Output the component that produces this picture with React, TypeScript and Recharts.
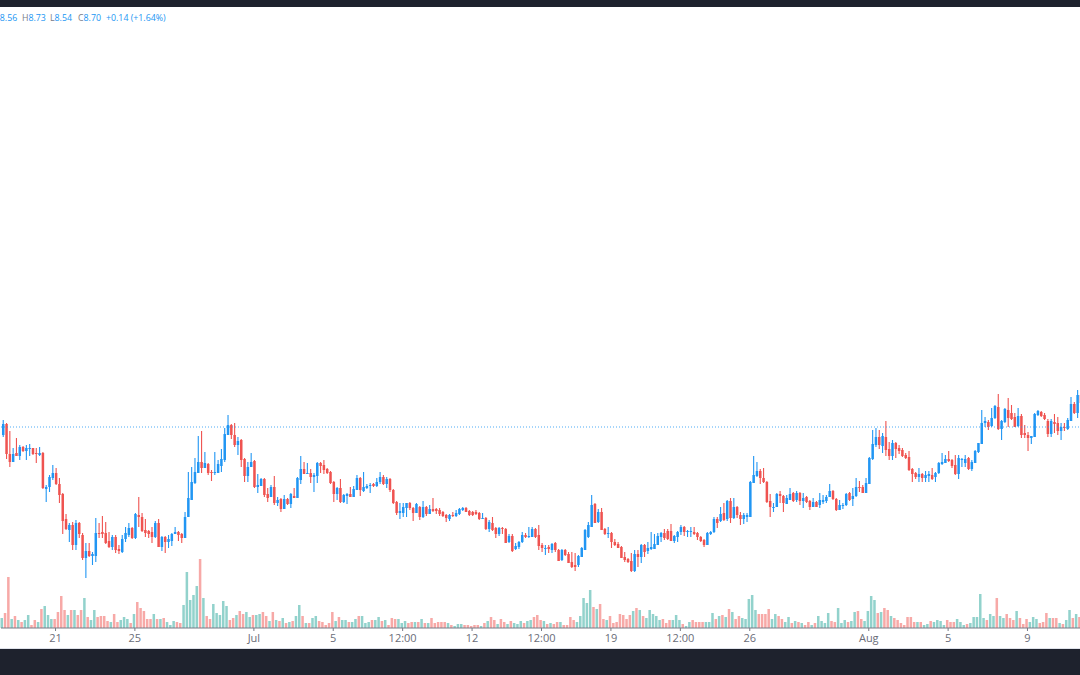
import { ComposedChart, Bar, XAxis, YAxis, ReferenceLine } from 'recharts';

// 4h candles (10 per line)
const opens = [
  8.30,8.41,8.11,8.03,8.12,8.09,8.18,8.14,8.16,8.17,
  8.12,8.10,8.12,7.76,7.78,7.87,7.92,7.81,7.71,7.46,
  7.35,7.40,7.20,7.42,7.30,7.07,7.14,7.09,7.09,7.32,
  7.33,7.32,7.24,7.18,7.28,7.16,7.13,7.26,7.30,7.37,
  7.27,7.50,7.48,7.35,7.34,7.33,7.28,7.42,7.18,7.28,
  7.23,7.24,7.31,7.33,7.31,7.27,7.48,7.65,7.82,7.92,
  8.03,7.97,8.01,7.93,7.92,7.92,7.99,8.05,8.30,8.40,
  8.30,8.20,8.25,8.06,7.89,7.98,8.04,7.78,7.79,7.86,
  7.71,7.68,7.78,7.62,7.66,7.56,7.66,7.61,7.69,7.67,
  7.85,7.96,7.91,7.92,7.88,7.89,8.02,8.00,7.96,7.93,
  7.83,7.71,7.77,7.63,7.69,7.71,7.68,7.75,7.87,7.74,
  7.77,7.79,7.81,7.79,7.83,7.88,7.81,7.86,7.75,7.63,
  7.52,7.52,7.57,7.62,7.57,7.52,7.58,7.48,7.58,7.51,
  7.56,7.56,7.55,7.53,7.50,7.46,7.50,7.49,7.51,7.55,
  7.57,7.54,7.53,7.53,7.52,7.46,7.47,7.36,7.42,7.37,
  7.31,7.37,7.36,7.23,7.29,7.16,7.18,7.23,7.30,7.28,
  7.28,7.36,7.30,7.20,7.16,7.18,7.15,7.22,7.15,7.05,
  7.15,7.11,7.03,7.00,7.00,7.08,7.15,7.28,7.38,7.61,
  7.43,7.53,7.36,7.31,7.32,7.23,7.21,7.18,7.08,7.06,
  7.04,6.94,7.11,7.08,7.20,7.14,7.16,7.16,7.20,7.28,
  7.32,7.34,7.34,7.24,7.28,7.33,7.38,7.33,7.33,7.33,
  7.32,7.28,7.25,7.20,7.31,7.33,7.46,7.44,7.52,7.46,
  7.64,7.47,7.58,7.50,7.46,7.48,7.48,7.82,7.89,7.94,
  7.87,7.83,7.64,7.57,7.58,7.71,7.69,7.61,7.65,7.72,
  7.65,7.72,7.64,7.68,7.64,7.58,7.63,7.60,7.63,7.64,
  7.68,7.74,7.66,7.55,7.59,7.60,7.72,7.66,7.69,7.78,
  7.78,7.72,7.81,8.06,8.20,8.28,8.19,8.28,8.16,8.09,
  8.22,8.17,8.15,8.10,8.08,7.96,7.92,7.88,7.91,7.87,
  7.89,7.90,7.88,7.92,8.01,8.02,8.06,8.05,8.00,7.91,
  8.05,8.02,8.07,7.96,8.02,8.13,8.21,8.42,8.43,8.39,
  8.47,8.58,8.36,8.43,8.55,8.52,8.48,8.39,8.49,8.32,
  8.30,8.27,8.28,8.50,8.53,8.50,8.44,8.31,8.43,8.42,
  8.34,8.38,8.36,8.44,8.61,8.52,8.70,
];
const closes = [
  8.41,8.11,8.03,8.11,8.09,8.18,8.14,8.17,8.17,8.11,
  8.11,8.12,7.77,7.78,7.88,7.92,7.81,7.70,7.44,7.36,
  7.40,7.20,7.42,7.31,7.07,7.14,7.09,7.11,7.32,7.31,
  7.31,7.22,7.18,7.28,7.15,7.14,7.26,7.32,7.37,7.27,
  7.51,7.48,7.34,7.32,7.31,7.28,7.42,7.18,7.28,7.23,
  7.26,7.31,7.33,7.30,7.27,7.48,7.67,7.83,7.93,8.03,
  7.97,8.02,7.92,7.92,7.93,8.01,8.06,8.31,8.40,8.30,
  8.20,8.24,8.05,7.89,7.98,8.03,7.78,7.80,7.86,7.70,
  7.67,7.78,7.62,7.65,7.56,7.66,7.61,7.71,7.67,7.87,
  7.96,7.91,7.92,7.88,7.90,8.02,7.99,7.95,7.92,7.82,
  7.71,7.77,7.63,7.70,7.71,7.68,7.76,7.87,7.75,7.78,
  7.79,7.80,7.79,7.83,7.88,7.81,7.86,7.75,7.62,7.52,
  7.54,7.58,7.62,7.57,7.52,7.61,7.48,7.58,7.51,7.56,
  7.54,7.54,7.51,7.49,7.47,7.50,7.49,7.52,7.56,7.57,
  7.53,7.50,7.50,7.51,7.46,7.47,7.36,7.43,7.35,7.31,
  7.37,7.36,7.22,7.29,7.14,7.19,7.23,7.30,7.28,7.29,
  7.36,7.28,7.19,7.17,7.17,7.16,7.21,7.15,7.04,7.15,
  7.10,7.02,6.98,6.98,7.09,7.17,7.35,7.40,7.60,7.42,
  7.53,7.35,7.31,7.32,7.23,7.20,7.17,7.07,7.05,7.03,
  6.94,7.11,7.08,7.20,7.13,7.17,7.18,7.21,7.29,7.32,
  7.27,7.26,7.24,7.29,7.33,7.38,7.33,7.34,7.34,7.31,
  7.28,7.24,7.20,7.32,7.33,7.46,7.42,7.51,7.45,7.64,
  7.47,7.58,7.50,7.46,7.50,7.50,7.83,7.90,7.94,7.87,
  7.83,7.63,7.58,7.58,7.71,7.69,7.62,7.67,7.71,7.64,
  7.72,7.64,7.67,7.63,7.58,7.63,7.58,7.65,7.65,7.68,
  7.74,7.66,7.55,7.60,7.60,7.71,7.65,7.69,7.78,7.77,
  7.72,7.82,8.07,8.21,8.28,8.20,8.29,8.15,8.09,8.22,
  8.16,8.14,8.09,8.07,7.95,7.91,7.88,7.91,7.87,7.90,
  7.91,7.86,7.92,8.02,8.03,8.06,8.04,7.99,7.91,8.07,
  8.06,8.06,7.96,8.03,8.14,8.22,8.42,8.44,8.38,8.47,
  8.59,8.36,8.44,8.56,8.47,8.46,8.38,8.49,8.30,8.30,
  8.27,8.29,8.51,8.54,8.49,8.46,8.31,8.44,8.41,8.34,
  8.38,8.37,8.45,8.61,8.52,8.70,8.62,
];
const highs = [
  8.45,8.42,8.34,8.17,8.27,8.20,8.19,8.20,8.21,8.17,
  8.17,8.18,8.13,7.80,7.90,8.00,7.97,7.87,7.72,7.51,
  7.42,7.43,7.45,7.43,7.32,7.22,7.22,7.13,7.47,7.42,
  7.49,7.43,7.33,7.30,7.30,7.20,7.30,7.38,7.42,7.38,
  7.52,7.68,7.52,7.46,7.35,7.38,7.44,7.46,7.29,7.29,
  7.30,7.32,7.38,7.34,7.32,7.53,7.93,7.98,8.07,8.29,
  8.34,8.13,8.02,7.95,8.13,8.05,8.16,8.37,8.50,8.41,
  8.42,8.28,8.26,8.07,8.03,8.12,8.05,7.91,7.87,7.87,
  7.77,7.80,7.89,7.68,7.67,7.70,7.67,7.72,7.77,7.88,
  8.09,8.03,8.02,7.96,7.92,8.03,8.03,8.05,7.97,7.94,
  7.84,7.78,7.86,7.71,7.72,7.78,7.79,7.90,7.88,7.93,
  7.81,7.82,7.82,7.87,7.93,7.90,7.88,7.87,7.76,7.64,
  7.62,7.62,7.62,7.63,7.58,7.62,7.59,7.64,7.59,7.60,
  7.67,7.57,7.57,7.54,7.51,7.51,7.53,7.55,7.57,7.58,
  7.58,7.55,7.54,7.55,7.53,7.52,7.48,7.45,7.48,7.38,
  7.38,7.38,7.37,7.31,7.31,7.22,7.24,7.33,7.32,7.38,
  7.38,7.37,7.40,7.22,7.20,7.20,7.22,7.23,7.16,7.16,
  7.16,7.13,7.13,7.12,7.10,7.18,7.36,7.43,7.70,7.62,
  7.56,7.57,7.37,7.38,7.33,7.26,7.23,7.19,7.13,7.07,
  7.12,7.15,7.15,7.21,7.21,7.23,7.33,7.31,7.32,7.33,
  7.36,7.36,7.41,7.30,7.34,7.40,7.39,7.35,7.38,7.38,
  7.33,7.29,7.26,7.33,7.34,7.48,7.48,7.58,7.62,7.65,
  7.67,7.67,7.59,7.53,7.52,7.52,7.84,8.09,8.03,7.96,
  7.97,7.84,7.71,7.62,7.72,7.74,7.70,7.70,7.77,7.73,
  7.74,7.73,7.72,7.69,7.65,7.67,7.64,7.72,7.70,7.70,
  7.81,7.75,7.67,7.65,7.62,7.72,7.73,7.77,7.87,7.84,
  7.80,7.87,8.08,8.35,8.37,8.35,8.32,8.44,8.23,8.25,
  8.23,8.20,8.17,8.12,8.14,7.97,7.93,7.97,7.92,7.94,
  7.94,7.97,7.93,8.03,8.12,8.10,8.14,8.06,8.10,8.10,
  8.07,8.10,8.08,8.05,8.15,8.22,8.55,8.48,8.45,8.57,
  8.60,8.71,8.45,8.57,8.67,8.60,8.52,8.57,8.51,8.40,
  8.33,8.29,8.52,8.55,8.54,8.52,8.46,8.46,8.51,8.48,
  8.42,8.42,8.47,8.68,8.63,8.75,8.73,
];
const lows = [
  8.28,8.06,7.98,8.03,8.09,8.05,8.13,8.05,8.09,8.10,
  8.02,8.09,7.76,7.63,7.73,7.85,7.80,7.62,7.31,7.35,
  7.23,7.15,7.15,7.27,7.05,6.87,7.08,7.00,7.03,7.27,
  7.27,7.21,7.17,7.15,7.12,7.11,7.12,7.23,7.28,7.26,
  7.26,7.38,7.33,7.28,7.27,7.22,7.27,7.18,7.14,7.12,
  7.17,7.19,7.31,7.24,7.22,7.27,7.48,7.65,7.81,7.92,
  7.92,7.97,7.90,7.84,7.90,7.92,7.93,8.03,8.30,8.26,
  8.18,8.10,7.98,7.83,7.83,7.98,7.77,7.72,7.79,7.68,
  7.63,7.68,7.60,7.59,7.53,7.56,7.60,7.57,7.67,7.67,
  7.81,7.91,7.91,7.82,7.73,7.82,7.92,7.91,7.91,7.81,
  7.63,7.65,7.62,7.62,7.61,7.68,7.68,7.75,7.69,7.73,
  7.76,7.72,7.78,7.78,7.81,7.80,7.77,7.73,7.61,7.50,
  7.46,7.48,7.48,7.55,7.44,7.52,7.45,7.47,7.49,7.51,
  7.53,7.51,7.49,7.48,7.43,7.44,7.48,7.48,7.50,7.54,
  7.53,7.49,7.49,7.50,7.45,7.46,7.35,7.33,7.34,7.27,
  7.29,7.31,7.22,7.22,7.13,7.15,7.16,7.22,7.27,7.27,
  7.28,7.27,7.15,7.13,7.10,7.12,7.12,7.13,7.04,7.04,
  7.09,7.02,6.97,6.94,6.98,7.08,7.15,7.27,7.38,7.42,
  7.42,7.35,7.30,7.27,7.17,7.19,7.17,7.07,7.03,7.02,
  6.93,6.93,6.98,7.02,7.08,7.11,7.15,7.16,7.20,7.23,
  7.25,7.25,7.24,7.22,7.23,7.30,7.29,7.28,7.28,7.30,
  7.25,7.23,7.18,7.20,7.30,7.32,7.37,7.43,7.44,7.44,
  7.42,7.46,7.47,7.40,7.41,7.43,7.48,7.82,7.88,7.81,
  7.82,7.62,7.48,7.53,7.58,7.62,7.53,7.61,7.65,7.63,
  7.63,7.60,7.57,7.62,7.55,7.58,7.58,7.57,7.61,7.62,
  7.68,7.65,7.54,7.55,7.56,7.59,7.64,7.59,7.68,7.73,
  7.72,7.72,7.81,8.05,8.18,8.16,8.12,8.09,8.05,8.05,
  8.07,8.11,8.08,8.06,7.94,7.83,7.86,7.83,7.83,7.83,
  7.83,7.85,7.83,7.91,8.00,8.02,8.03,7.97,7.90,7.86,
  7.98,7.98,7.95,7.94,8.02,8.12,8.21,8.38,8.35,8.38,
  8.46,8.35,8.25,8.42,8.38,8.45,8.38,8.38,8.27,8.27,
  8.14,8.21,8.28,8.49,8.48,8.45,8.28,8.28,8.32,8.30,
  8.25,8.34,8.35,8.44,8.51,8.47,8.60,
];
const volumes = [
  10,15,51,9,12,8,6,8,13,3,
  8,6,19,22,13,9,9,16,32,18,
  13,18,18,13,18,30,11,8,18,11,
  12,12,7,6,14,6,8,11,9,5,
  14,26,20,17,9,9,14,9,9,10,
  6,3,7,6,5,23,56,28,33,42,
  69,30,12,9,24,15,13,27,22,8,
  10,13,17,14,16,11,13,13,14,16,
  12,7,16,8,7,10,5,6,7,12,
  23,12,5,5,10,12,7,6,3,5,
  16,7,11,8,8,6,6,9,12,12,
  5,6,8,8,11,7,8,3,10,9,
  9,5,7,5,6,6,6,9,5,5,
  10,5,6,6,6,5,3,2,4,4,
  3,3,2,3,3,2,5,7,11,8,
  4,9,6,4,7,5,4,7,5,7,
  8,11,13,8,7,4,5,4,6,6,
  3,3,11,8,6,12,30,25,38,21,
  19,24,9,8,12,5,6,14,13,9,
  13,17,20,18,12,10,18,14,12,8,
  9,5,8,8,13,8,4,2,6,8,
  6,6,6,6,6,15,9,12,13,11,
  19,16,9,12,10,9,29,33,18,14,
  14,14,19,9,14,12,9,6,11,5,
  7,6,5,3,6,3,5,12,7,5,
  15,7,6,20,5,8,6,7,16,17,
  9,7,17,32,28,15,16,20,18,12,
  10,8,5,3,11,11,6,6,6,3,
  4,7,6,8,7,3,8,6,6,9,
  6,3,4,5,11,11,34,10,8,14,
  12,30,12,10,14,10,8,17,10,4,
  9,6,11,9,5,6,15,10,10,10,
  5,4,8,18,10,14,11,
];

const tickSlots = [16, 40, 76, 100, 121, 142, 163, 184, 205, 226, 262, 286, 310];
const tickLabels = ['21', '25', 'Jul', '5', '12:00', '12', '12:00', '19', '12:00', '26', 'Aug', '5', '9'];

const legendKeys = ['O', 'H', 'L', 'C'];
const legendValues = ['8.56', '8.73', '8.54', '8.70'];
const legendChange = '+0.14 (+1.64%)';
const lastPrice = 8.38;

const UP = '#2196f3';
const DOWN = '#ef5350';
const legendLefts = [-7, 22, 50, 78];

const data = opens.map((open, i) => ({
  slot: i,
  open,
  close: closes[i],
  high: highs[i],
  low: lows[i],
  volume: volumes[i],
}));

// recharts rounds barSize down, so widen the drawn rect around the bar's center
const BODY_WIDTH = 2.5;

const Candle = (props: any) => {
  const { x, y, width, height, payload } = props;
  const { open, close, high, low } = payload;
  // bar runs low..high, so place open/close inside it
  const toY = (v: number) => y + ((high - v) / (high - low)) * height;
  const top = toY(Math.max(open, close));
  const bottom = toY(Math.min(open, close));
  const color = close >= open ? UP : DOWN;
  const mid = x + width / 2;
  return (
    <g>
      <line x1={mid} x2={mid} y1={y} y2={y + height} stroke={color} strokeWidth={1.1} />
      <rect x={mid - BODY_WIDTH / 2} y={top} width={BODY_WIDTH} height={Math.max(bottom - top, 1)} fill={color} />
    </g>
  );
};

const VolumeBar = (props: any) => {
  const { x, y, width, height, payload } = props;
  const mid = x + width / 2;
  const fill = payload.close >= payload.open ? 'rgba(38,166,154,0.5)' : 'rgba(239,83,80,0.5)';
  return <rect x={mid - BODY_WIDTH / 2} y={y} width={BODY_WIDTH} height={height} fill={fill} />;
};

export default function App() {
  return (
    <div style={{ position: 'absolute', left: 0, top: 0, width: 1080, height: 675, overflow: 'hidden', background: '#fff' }}>
      <div style={{ position: 'absolute', left: 0, top: 0, width: 1080, height: 7, background: '#1e222d' }} />
      <div style={{ font: '8.8px "Open Sans", sans-serif', color: UP }}>
        {legendKeys.map((k, i) => (
          <span key={k} style={{ position: 'absolute', left: legendLefts[i], top: 12, whiteSpace: 'nowrap' }}>
            <span style={{ color: '#787b86' }}>{k}</span>
            {legendValues[i]}
          </span>
        ))}
        <span style={{ position: 'absolute', left: 106, top: 12, whiteSpace: 'nowrap' }}>{legendChange}</span>
      </div>
      <ComposedChart width={1082} height={648} data={data} margin={{ top: 0, right: 0, bottom: 0, left: 1 }}>
        <XAxis
          dataKey="slot"
          ticks={tickSlots}
          interval={0}
          height={20}
          tickFormatter={(v: number) => tickLabels[tickSlots.indexOf(v)]}
          tick={{ fontSize: 11, fill: '#6a6d78', fontFamily: '"Open Sans", sans-serif' }}
          tickSize={3}
          tickMargin={3}
          stroke="#787b86"
        />
        <YAxis yAxisId="price" hide domain={[6.37, 12.65]} allowDataOverflow />
        <YAxis yAxisId="volume" hide domain={[0, 628]} allowDataOverflow />
        <ReferenceLine yAxisId="price" y={lastPrice} stroke={UP} strokeDasharray="1 2" strokeOpacity={0.8} />
        <Bar yAxisId="volume" dataKey="volume" barSize={2} shape={VolumeBar} isAnimationActive={false} />
        <Bar
          yAxisId="price"
          dataKey={(d: any) => [d.low, d.high]}
          barSize={2}
          shape={Candle}
          isAnimationActive={false}
        />
      </ComposedChart>
      <div style={{ position: 'absolute', left: 0, top: 648, width: 1080, height: 1, background: '#e0e3eb' }} />
      <div style={{ position: 'absolute', left: 0, top: 649, width: 1080, height: 26, background: '#1e222d' }} />
    </div>
  );
}
